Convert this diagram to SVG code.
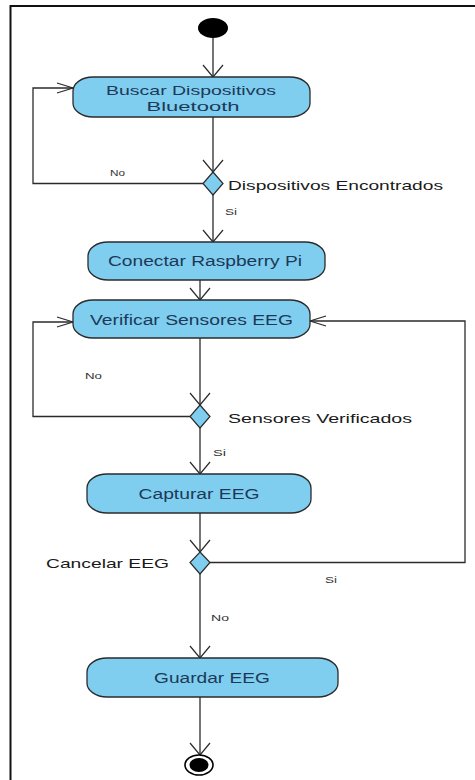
<svg xmlns="http://www.w3.org/2000/svg" width="475" height="780" viewBox="0 0 475 780">
  <style>
    .action { fill: #7fcef0; stroke: #2b2b2b; stroke-width: 1.3; }
    .decision { fill: #7fcef0; stroke: #2b2b2b; stroke-width: 1.2; }
    .flow { fill: none; stroke: #2b2b2b; stroke-width: 1.3; }
    .label { font-family: "Liberation Sans", Arial, sans-serif; font-size: 14px; fill: #1d3957; text-anchor: middle; }
    .label.small { font-size: 13px; }
    .cond { font-family: "Liberation Sans", Arial, sans-serif; font-size: 13px; fill: #1a1a1a; }
    .guard { font-family: "Liberation Sans", Arial, sans-serif; font-size: 9px; fill: #333333; }
  </style>
  <defs>
    <!-- open arrowheads, separate shapes for vertical and horizontal flows -->
    <marker id="arrowV" markerUnits="userSpaceOnUse" markerWidth="30" markerHeight="30" refX="0" refY="0" viewBox="-15 -15 30 30" orient="auto" overflow="visible">
      <path d="M-12,-10 L0,0 L-12,10" fill="none" stroke="#2b2b2b" stroke-width="1.2"/>
    </marker>
    <marker id="arrowH" markerUnits="userSpaceOnUse" markerWidth="30" markerHeight="30" refX="0" refY="0" viewBox="-15 -15 30 30" orient="auto" overflow="visible">
      <path d="M-16,-5 L0,0 L-16,5" fill="none" stroke="#2b2b2b" stroke-width="1.2"/>
    </marker>
  </defs>

  <rect x="0" y="0" width="475" height="780" fill="#ffffff"/>
  <!-- frame -->
  <rect x="10.5" y="6" width="468" height="800" fill="none" stroke="#111111" stroke-width="2"/>

  <g id="connectors">
    <path class="flow" d="M213,38 L213,77" marker-end="url(#arrowV)"/>
    <path class="flow" d="M213,117 L213,172" marker-end="url(#arrowV)"/>
    <path class="flow" d="M203,183.5 L33,183.5 L33,88 L73,88" marker-end="url(#arrowH)"/>
    <path class="flow" d="M213,195 L213,242" marker-end="url(#arrowV)"/>
    <path class="flow" d="M200,280 L200,300" marker-end="url(#arrowV)"/>
    <path class="flow" d="M200,338 L200,405" marker-end="url(#arrowV)"/>
    <path class="flow" d="M190,416.5 L33,416.5 L33,322 L73,322" marker-end="url(#arrowH)"/>
    <path class="flow" d="M200,428 L200,474" marker-end="url(#arrowV)"/>
    <path class="flow" d="M200,513 L200,552" marker-end="url(#arrowV)"/>
    <path class="flow" d="M210,562.5 L465,562.5 L465,321 L310,321" marker-end="url(#arrowH)"/>
    <path class="flow" d="M200,574 L200,658" marker-end="url(#arrowV)"/>
    <path class="flow" d="M200,697 L200,755" marker-end="url(#arrowV)"/>
    <text class="guard" x="110" y="176" textLength="15" lengthAdjust="spacingAndGlyphs">No</text>
    <text class="guard" x="225" y="215" textLength="12" lengthAdjust="spacingAndGlyphs">Si</text>
    <text class="guard" x="85" y="379" textLength="17" lengthAdjust="spacingAndGlyphs">No</text>
    <text class="guard" x="213" y="456" textLength="13" lengthAdjust="spacingAndGlyphs">Si</text>
    <text class="guard" x="325" y="583" textLength="12" lengthAdjust="spacingAndGlyphs">Si</text>
    <text class="guard" x="211" y="621" textLength="18" lengthAdjust="spacingAndGlyphs">No</text>
  </g>

  <g id="start">
    <ellipse cx="213" cy="28" rx="15" ry="10" fill="#000000"/>
  </g>

  <g id="buscar">
    <rect class="action" x="73" y="77" width="237" height="40" rx="20" ry="14"/>
    <text class="label small" x="191" y="94.5" textLength="170" lengthAdjust="spacingAndGlyphs">Buscar Dispositivos</text>
    <text class="label small" x="193" y="111" textLength="93" lengthAdjust="spacingAndGlyphs">Bluetooth</text>
  </g>

  <g id="dispositivos-encontrados">
    <polygon class="decision" points="213,172 223,183.5 213,195 203,183.5"/>
    <text class="cond" x="228" y="190" textLength="215" lengthAdjust="spacingAndGlyphs">Dispositivos Encontrados</text>
  </g>

  <g id="conectar">
    <rect class="action" x="88" y="242" width="237" height="38" rx="20" ry="14"/>
    <text class="label" x="205" y="266" textLength="194" lengthAdjust="spacingAndGlyphs">Conectar Raspberry Pi</text>
  </g>

  <g id="verificar">
    <rect class="action" x="73" y="300" width="237" height="38" rx="20" ry="14"/>
    <text class="label" x="191.5" y="325" textLength="203" lengthAdjust="spacingAndGlyphs">Verificar Sensores EEG</text>
  </g>

  <g id="sensores-verificados">
    <polygon class="decision" points="200,405 210,416.5 200,428 190,416.5"/>
    <text class="cond" x="228" y="423" textLength="184" lengthAdjust="spacingAndGlyphs">Sensores Verificados</text>
  </g>

  <g id="capturar">
    <rect class="action" x="87" y="474" width="224" height="39" rx="20" ry="14"/>
    <text class="label" x="199" y="499" textLength="121" lengthAdjust="spacingAndGlyphs">Capturar EEG</text>
  </g>

  <g id="cancelar">
    <polygon class="decision" points="200,552 210,562.5 200,574 190,562.5"/>
    <text class="cond" x="46" y="568" textLength="123" lengthAdjust="spacingAndGlyphs">Cancelar EEG</text>
  </g>

  <g id="guardar">
    <rect class="action" x="87" y="658" width="251" height="39" rx="20" ry="14"/>
    <text class="label" x="212" y="683" textLength="116" lengthAdjust="spacingAndGlyphs">Guardar EEG</text>
  </g>

  <g id="end">
    <ellipse cx="199" cy="765" rx="14" ry="10" fill="#ffffff" stroke="#000000" stroke-width="1.6"/>
    <ellipse cx="199" cy="765" rx="9.5" ry="7" fill="#000000"/>
  </g>
</svg>
